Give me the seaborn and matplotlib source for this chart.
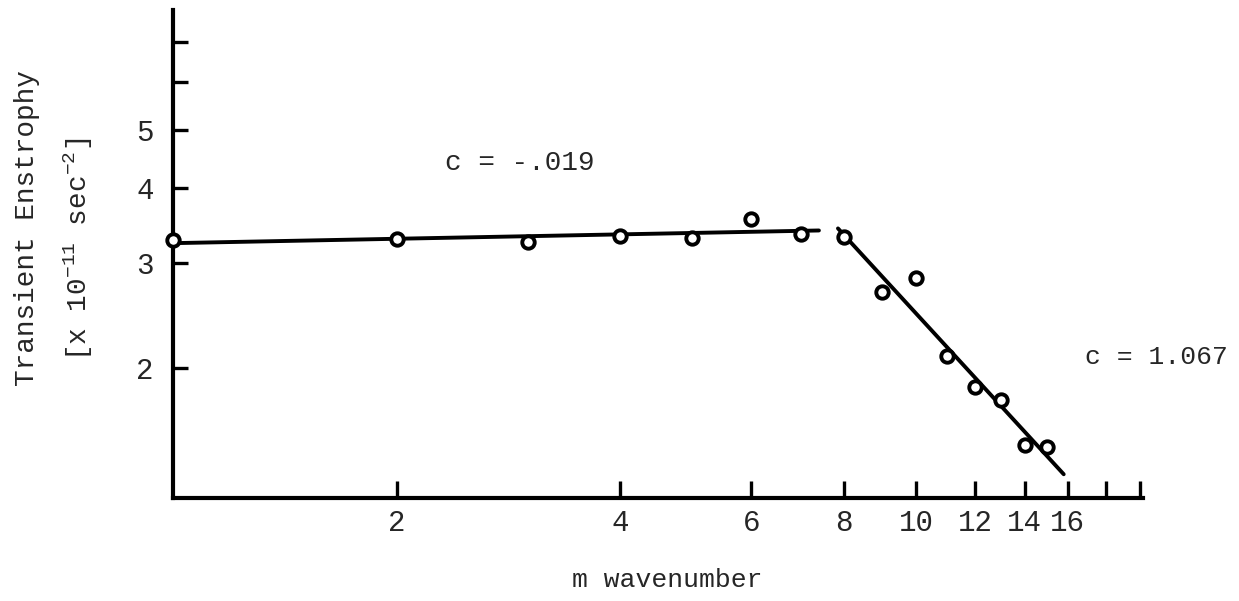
import numpy as np
import pandas as pd
import matplotlib
matplotlib.use('Agg')
import matplotlib.pyplot as plt
from matplotlib.ticker import FixedLocator, NullLocator, FixedFormatter
import seaborn as sns

# values
m = [1, 2, 3, 4, 5, 6, 7, 8, 9, 10, 11, 12, 13, 14, 15]
enstrophy = [3.27, 3.29, 3.25, 3.32, 3.30, 3.55, 3.35, 3.31,
             2.68, 2.83, 2.10, 1.86, 1.77, 1.49, 1.48]

# points used for each fitted segment and how far each line runs
flat_m = [1, 2, 3, 4, 5, 6, 7]
steep_m = [8, 9, 10, 11, 12, 13, 14, 15]
flat_span = [1, 7.4]
steep_span = [7.85, 15.8]

x_ticks = [2, 4, 6, 8, 10, 12, 14, 16, 18, 20]
x_ticklabels = ['2', '4', '6', '8', '10', '12', '14', '16', '', '']
y_ticks = [2, 3, 4, 5, 6, 7]
y_ticklabels = ['2', '3', '4', '5', '', '']

df = pd.DataFrame({'m': m, 'enstrophy': enstrophy})

sns.set_style('white')
plt.rcParams['font.family'] = ['Liberation Mono', 'DejaVu Sans Mono']
plt.rcParams['mathtext.default'] = 'regular'

fig = plt.figure(figsize=(12.39, 6.01), dpi=100)
ax = fig.add_axes([173 / 1239, 1 - 498 / 601, 970 / 1239, 488 / 601])
ax.set_xscale('log')
ax.set_yscale('log')


def fit_line(sel, span):
    sub = df[df['m'].isin(sel)]
    coef = np.polyfit(np.log10(sub['m']), np.log10(sub['enstrophy']), 1)
    xs = np.array(span, dtype=float)
    return xs, 10 ** np.polyval(coef, np.log10(xs))


for sel, span in [(flat_m, flat_span), (steep_m, steep_span)]:
    xs, ys = fit_line(sel, span)
    sns.lineplot(x=xs, y=ys, color='black', linewidth=2.8, ax=ax, sort=False)

sns.scatterplot(data=df, x='m', y='enstrophy', marker='o', s=80,
                facecolor='white', edgecolor='black', linewidth=2.8,
                zorder=3, clip_on=False, ax=ax)

ax.set_xlim(1, 20.2)
ax.set_ylim(1.217, 7.91)

ax.xaxis.set_major_locator(FixedLocator(x_ticks))
ax.xaxis.set_major_formatter(FixedFormatter(x_ticklabels))
ax.xaxis.set_minor_locator(NullLocator())
ax.yaxis.set_major_locator(FixedLocator(y_ticks))
ax.yaxis.set_major_formatter(FixedFormatter(y_ticklabels))
ax.yaxis.set_minor_locator(NullLocator())

ax.tick_params(axis='x', bottom=True, direction='in', length=12, width=2.4,
               pad=8, labelsize=21, color='black')
ax.tick_params(axis='y', left=True, direction='in', length=11, width=2.4,
               pad=14, labelsize=21, color='black')

for side in ['top', 'right']:
    ax.spines[side].set_visible(False)
for side in ['left', 'bottom']:
    ax.spines[side].set_linewidth(3)
    ax.spines[side].set_color('black')

ax.set_xlabel('')
ax.set_ylabel('')

ax.text(0.358, 0.686, 'c = -.019', transform=ax.transAxes,
        ha='center', va='center', fontsize=20)
ax.text(1.014, 0.289, 'c = 1.067', transform=ax.transAxes,
        ha='center', va='center', fontsize=19, clip_on=False)

fig.text(667 / 1239, 1 - 580 / 601, 'm wavenumber', ha='center', va='center',
         fontsize=19)
fig.text(27 / 1239, 1 - 228 / 601, 'Transient Enstrophy', rotation=90,
         ha='center', va='center', fontsize=20)
fig.text(78 / 1239, 1 - 249 / 601, '[x 10$^{-11}$ sec$^{-2}$]', rotation=90,
         ha='center', va='center', fontsize=20)

fig.savefig('out.png', dpi=100)
